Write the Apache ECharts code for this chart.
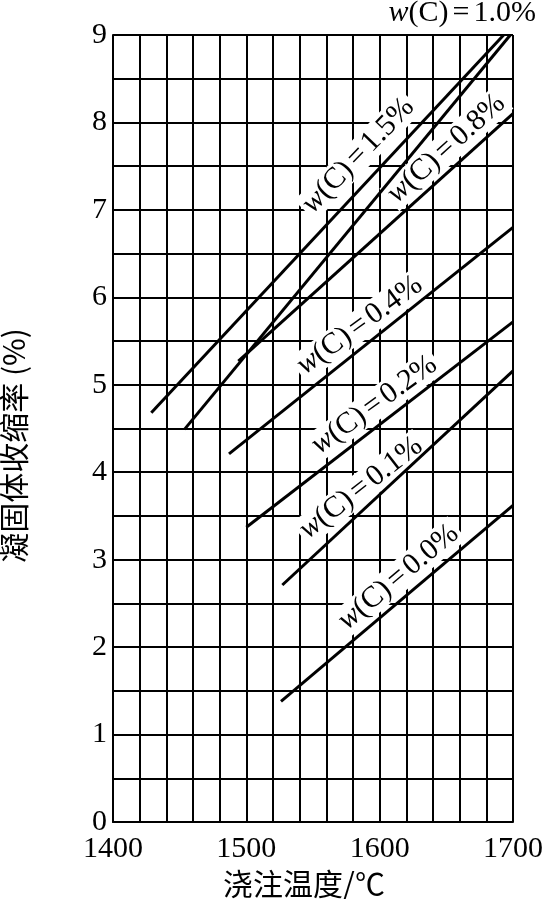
<!DOCTYPE html>
<html>
<head>
<meta charset="utf-8">
<script src="https://cdn.jsdelivr.net/npm/echarts@6/dist/echarts.min.js"></script>
<style>html,body{margin:0;padding:0;background:#fff;}#c{width:542px;height:899px;}</style>
</head>
<body>
<div id="c"></div>
<script>
// Pouring temperature (°C) ticks
const xTickLabels = [1400, 1500, 1600, 1700];
const yTickLabels = [0, 1, 2, 3, 4, 5, 6, 7, 8, 9];
// carbon content labels
const carbonNames = ['1.5%', '1.0%', '0.8%', '0.4%', '0.2%', '0.1%', '0.0%'];
// each curve: pouring temperature and solidification shrinkage (%)
const temp_c15 = [1428.7, 1693];   const shrink_c15 = [4.68, 9.0];
const temp_c10 = [1453.6, 1698];   const shrink_c10 = [4.49, 9.0];
const temp_c08 = [1494, 1700];     const shrink_c08 = [5.27, 8.10];
const temp_c04 = [1487, 1700];     const shrink_c04 = [4.21, 6.80];
const temp_c02 = [1500, 1700];     const shrink_c02 = [3.37, 5.72];
const temp_c01 = [1527, 1700];     const shrink_c01 = [2.71, 5.16];
const temp_c00 = [1526, 1700];     const shrink_c00 = [1.38, 3.62];

const temps = [temp_c15, temp_c10, temp_c08, temp_c04, temp_c02, temp_c01, temp_c00];
const shrinks = [shrink_c15, shrink_c10, shrink_c08, shrink_c04, shrink_c02, shrink_c01, shrink_c00];

// label placement (data coords) and rotation per curve (null = placed as title at top)
const labelCfg = [
  {coord: [1584, 7.62], rotate: 46},
  null,
  {coord: [1650, 7.70], rotate: 42},
  {coord: [1585, 5.68], rotate: 36},
  {coord: [1596, 4.77], rotate: 36},
  {coord: [1586, 3.82], rotate: 38},
  {coord: [1614, 2.80], rotate: 40}
];

const serif = "'Liberation Serif','Times New Roman',serif";
const cjk = "'Noto Sans CJK SC','Noto Sans',sans-serif";
const FS = 30;
const richStyle = {
  i: {fontStyle: 'italic', fontFamily: serif, fontSize: FS, color: '#000'},
  n: {fontFamily: serif, fontSize: FS, color: '#000'},
  eq: {fontFamily: serif, fontSize: FS, color: '#000', padding: [0, 4, 0, 4]}
};
const labelText = name => '{i|w}{n|(C)}{eq|=}{n|' + name + '}';

const series = carbonNames.map((name, i) => {
  const cfg = labelCfg[i];
  const s = {
    type: 'line',
    name: 'w(C)=' + name,
    data: temps[i].map((t, k) => [t, shrinks[i][k]]),
    showSymbol: false,
    symbol: 'none',
    clip: false,
    lineStyle: {color: '#000', width: 3},
    z: 5
  };
  if (cfg) {
    s.markPoint = {
      symbol: 'circle',
      symbolSize: 0,
      silent: true,
      data: [{coord: cfg.coord}],
      label: {
        show: true,
        position: 'inside',
        rotate: cfg.rotate,
        formatter: labelText(name),
        color: '#000',
        fontFamily: serif,
        fontSize: FS,
        backgroundColor: '#fff',
        padding: [0, 3, 0, 3],
        rich: richStyle
      }
    };
  }
  return s;
});

const chart = echarts.init(document.getElementById('c'), null, {renderer: 'canvas'});
chart.setOption({
  animation: false,
  backgroundColor: '#fff',
  title: {
    text: labelText(carbonNames[1]),
    right: 6,
    top: -2,
    padding: 0,
    textStyle: {fontFamily: serif, fontSize: FS, color: '#000', fontWeight: 'normal', rich: richStyle}
  },
  grid: {left: 113, right: 29, top: 35, bottom: 77, containLabel: false, outerBoundsMode: 'none'},
  xAxis: {
    type: 'value',
    min: 1400, max: 1700, interval: 20,
    name: '浇注温度/℃',
    nameLocation: 'middle',
    nameGap: 44,
    nameTextStyle: {fontFamily: cjk, fontSize: 30, color: '#000', padding: [0, 18, 0, 0]},
    axisLine: {show: true, lineStyle: {color: '#000', width: 2}},
    axisTick: {show: false},
    axisLabel: {
      color: '#000', fontFamily: serif, fontSize: 30, margin: 12,
      formatter: v => (xTickLabels.indexOf(v) >= 0 ? String(v) : '')
    },
    splitLine: {show: true, lineStyle: {color: '#000', width: 2}}
  },
  yAxis: {
    type: 'value',
    min: 0, max: 9, interval: 0.5,
    name: '凝固体收缩率 (%)',
    nameLocation: 'middle',
    nameGap: 84,
    nameRotate: 90,
    nameTextStyle: {fontFamily: cjk, fontSize: 30, color: '#000', padding: [0, 34, 0, 0]},
    axisLine: {show: true, lineStyle: {color: '#000', width: 2}},
    axisTick: {show: false},
    axisLabel: {
      color: '#000', fontFamily: serif, fontSize: 30, margin: 6,
      formatter: v => (yTickLabels.indexOf(v) >= 0 ? String(v) : '')
    },
    splitLine: {show: true, lineStyle: {color: '#000', width: 2}}
  },
  series: series
});
</script>
</body>
</html>
